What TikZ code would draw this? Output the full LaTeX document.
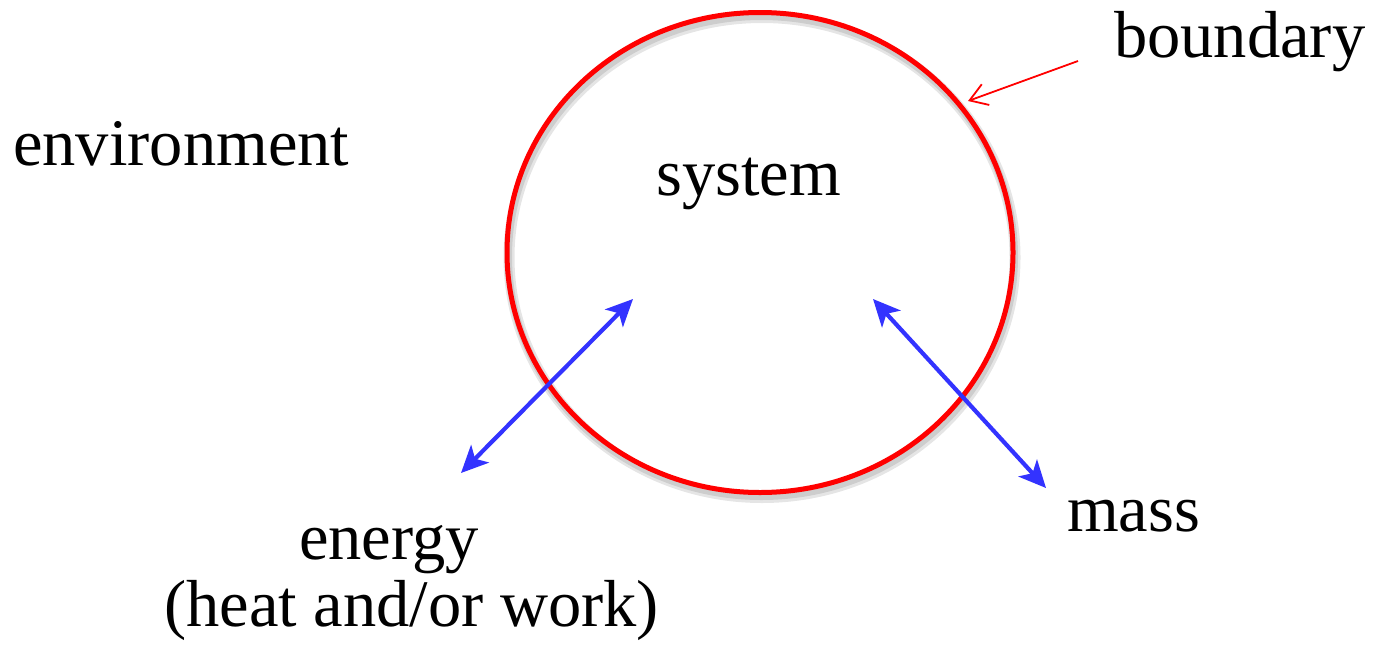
\documentclass[tikz,border=0pt]{standalone}
\usepackage{fontspec}
\setmainfont{Liberation Serif}
\usetikzlibrary{arrows.meta}
\definecolor{sysred}{RGB}{255,0,0}
\definecolor{flowblue}{RGB}{51,51,255}
\tikzset{
  lbl/.style={anchor=base west, inner sep=0pt, font=\fontsize{66.5}{80}\selectfont, text=black},
  bound/.style={draw=sysred, line width=5pt},
  boundsh/.style={draw=black, opacity=0.10},
  flow/.style={draw=flowblue, line width=4.2pt, {Stealth[length=27pt,width=25pt,inset=7pt]}-{Stealth[length=27pt,width=25pt,inset=7pt]}},
  pointer/.style={draw=sysred, line width=1.8pt, -{Straight Barb[length=17pt,width=22pt]}}
}
\begin{document}
\begin{tikzpicture}[x=1pt,y=-1pt]
  \useasboundingbox[fill=white] (0,0) rectangle (1373,648);
  % boundary ellipse shadow
  \draw[boundsh, line width=11pt] (762,257.5) ellipse [x radius=253, y radius=240];
  \draw[boundsh, line width=7pt] (761.5,256.5) ellipse [x radius=253, y radius=240];
  % boundary ellipse
  \draw[bound] (760,252.5) ellipse [x radius=253, y radius=240];

  % labels
  \node[lbl] (env) at (13,165) {environment};
  \node[lbl] (sys) at (656,195) {system};
  \node[lbl] (bnd) at (1114,57) {boundary};
  \node[lbl] (mass) at (1067,531) {mass};
  \node[lbl] (energy) at (299,559) {energy};
  \node[lbl] (work) at (164,626) {(heat and/or work)};

  % arrow endpoints
  \coordinate (eIn) at (633,299);
  \coordinate (eOut) at (461,473);
  \coordinate (mIn) at (873,299);
  \coordinate (mOut) at (1046,488);
  \coordinate (pStart) at (1078,61);
  \coordinate (pEnd) at (968,101);

  \draw[flow] (eOut) -- (eIn);
  \draw[flow] (mIn) -- (mOut);
  \draw[pointer] (pStart) -- (pEnd);
\end{tikzpicture}
\end{document}
